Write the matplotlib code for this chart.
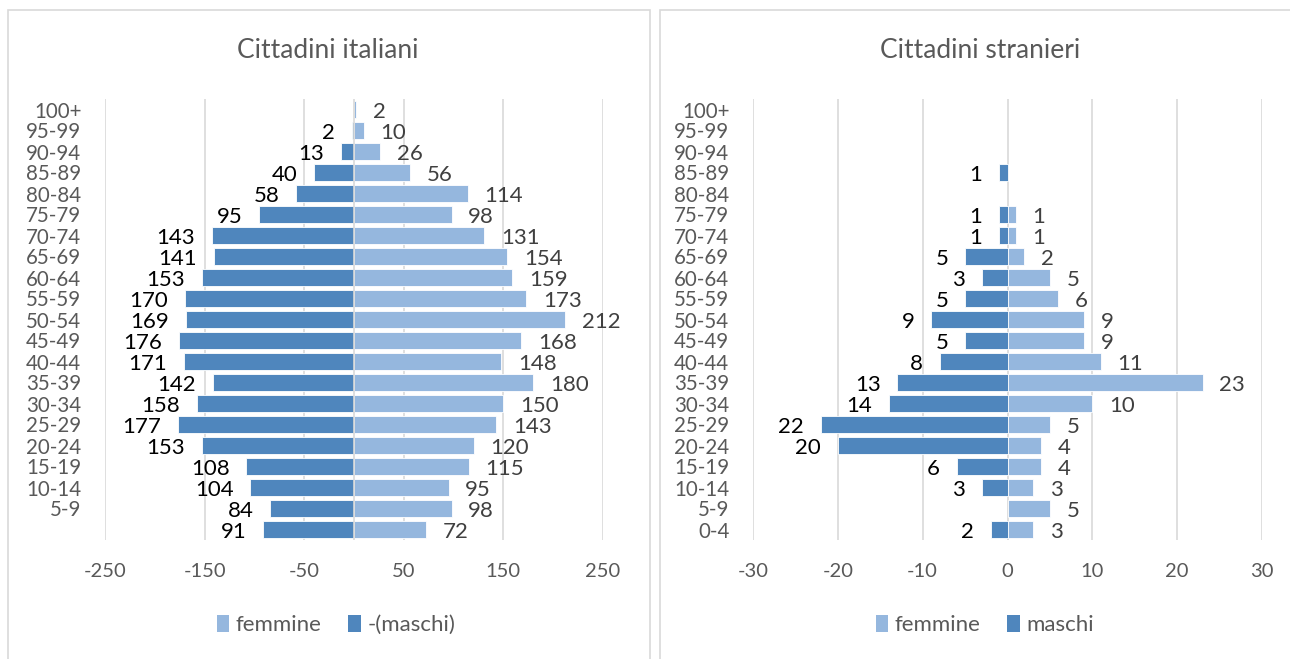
import matplotlib
matplotlib.use("Agg")
import matplotlib.pyplot as plt
from matplotlib.patches import Rectangle, Patch

plt.rcParams['font.family'] = ['Lato', 'DejaVu Sans']

age_groups = ["0-4", "5-9", "10-14", "15-19", "20-24", "25-29", "30-34", "35-39",
              "40-44", "45-49", "50-54", "55-59", "60-64", "65-69", "70-74", "75-79",
              "80-84", "85-89", "90-94", "95-99", "100+"]
# left panel shows no label for the first row
ita_tick_labels = [""] + age_groups[1:]

ita_maschi = [91, 84, 104, 108, 153, 177, 158, 142, 171, 176, 169, 170, 153, 141,
              143, 95, 58, 40, 13, 2, None]
ita_femmine = [72, 98, 95, 115, 120, 143, 150, 180, 148, 168, 212, 173, 159, 154,
               131, 98, 114, 56, 26, 10, 2]

str_maschi = [2, None, 3, 6, 20, 22, 14, 13, 8, 5, 9, 5, 3, 5, 1, 1, None, 1,
              None, None, None]
str_femmine = [3, 5, 3, 4, 4, 5, 10, 23, 11, 9, 9, 6, 5, 2, 1, 1, None, None,
               None, None, None]

ita_xticks = [-250, -150, -50, 50, 150, 250]
str_xticks = [-30, -20, -10, 0, 10, 20, 30]

C_F = "#95B7DE"
C_M = "#4F86BD"
GRID = "#D9D9D9"
TXT = "#595959"

W, H = 1290, 659
fig = plt.figure(figsize=(W / 100, H / 100), dpi=100)

# panel borders
for x0, x1 in [(8, 650), (660, 1300)]:
    fig.patches.append(Rectangle((x0 / W, -0.1), (x1 - x0) / W, (H - 10) / H + 0.1,
                                 transform=fig.transFigure, fill=False,
                                 edgecolor=GRID, linewidth=1.2))


def panel(rect, maschi, femmine, ticks, xlim, tick_labels, title, leg_m, title_x,
          leg_x, zero_line):
    ax = fig.add_axes(rect)
    ys = list(range(len(age_groups)))
    fy = [y for y, v in zip(ys, femmine) if v]
    fv = [v for v in femmine if v]
    my = [y for y, v in zip(ys, maschi) if v]
    mv = [-v for v in maschi if v]
    ax.barh(fy, fv, height=0.79, color=C_F, edgecolor="white", linewidth=0.6,
            zorder=3)
    ax.barh(my, mv, height=0.79, color=C_M, edgecolor="white", linewidth=0.6,
            zorder=3)
    for y, v in zip(ys, maschi):
        if v is not None:
            ax.annotate(str(v), (-v, y), xytext=(-12, -1.5), textcoords="offset points",
                        ha="right", va="center", fontsize=16, color="black")
    for y, v in zip(ys, femmine):
        if v is not None:
            ax.annotate(str(v), (v, y), xytext=(12, -1.5), textcoords="offset points",
                        ha="left", va="center", fontsize=16, color="#404040")
    ax.set_xlim(*xlim)
    ax.set_ylim(-0.5, len(age_groups) - 0.5)
    ax.set_xticks(ticks)
    ax.set_xticklabels([str(t) for t in ticks])
    ax.set_yticks(ys)
    ax.set_yticklabels(tick_labels)
    ax.tick_params(axis="y", length=0, pad=17, labelsize=14.8, labelcolor=TXT)
    ax.tick_params(axis="x", length=0, pad=16.5, labelsize=14.5, labelcolor=TXT)
    ax.grid(axis="x", color=GRID, linewidth=1.2, zorder=0)
    if zero_line:
        ax.axvline(0, color=GRID, linewidth=1.2, zorder=4)
    for s in ax.spines.values():
        s.set_visible(False)
    fig.text(title_x / W, 1 - 51 / H, title, ha="center", va="center",
             fontsize=19, color=TXT)
    handles = [Patch(facecolor=C_F, label="femmine"), Patch(facecolor=C_M, label=leg_m)]
    fig.legend(handles=handles, loc="center", bbox_to_anchor=(leg_x / W, 1 - 625 / H),
               ncol=2, frameon=False, fontsize=16, handlelength=0.55,
               handleheight=0.8, handletextpad=0.3, columnspacing=1.2,
               labelcolor=TXT)
    return ax


panel([105 / W, 1 - 540 / H, 498 / W, 441 / H], ita_maschi, ita_femmine, ita_xticks,
      (-250, 250), ita_tick_labels, "Cittadini italiani", "-(maschi)", 328, 336, True)
panel([753 / W, 1 - 540 / H, 509 / W, 441 / H], str_maschi, str_femmine, str_xticks,
      (-30, 30), age_groups, "Cittadini stranieri", "maschi", 980, 985, False)

fig.savefig("out.png", dpi=100)
